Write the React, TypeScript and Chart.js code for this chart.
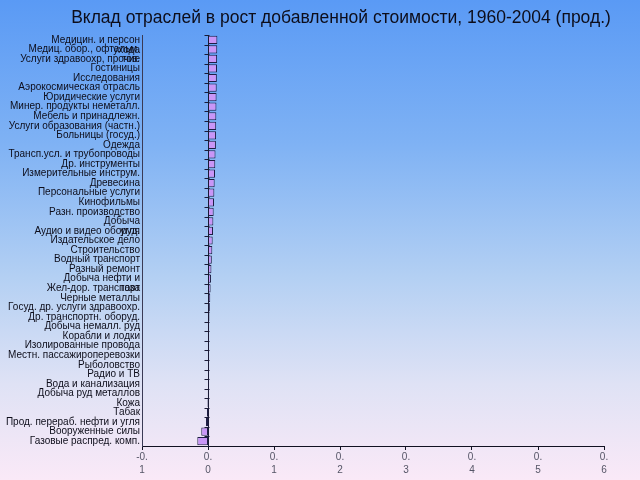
import React, { useEffect, useRef } from "react";
import { Chart, registerables } from "chart.js";

Chart.register(...registerables);

const TITLE = "Вклад отраслей в рост добавленной стоимости, 1960-2004 (прод.)";

const categories = [
  "Медицин. и персон\nухода",
  "Медиц. обор., офтальм.\nтов.",
  "Услуги здравоохр, прочие",
  "Гостиницы",
  "Исследования",
  "Аэрокосмическая отрасль",
  "Юридические услуги",
  "Минер. продукты неметалл.",
  "Мебель и принадлежн.",
  "Услуги образования (частн.)",
  "Больницы (госуд.)",
  "Одежда",
  "Трансп.усл. и трубопроводы",
  "Др. инструменты",
  "Измерительные инструм.",
  "Древесина",
  "Персональные услуги",
  "Кинофильмы",
  "Разн. производство",
  "Добыча\nугля",
  "Аудио и видео оборуд.",
  "Издательское дело",
  "Строительство",
  "Водный транспорт",
  "Разный ремонт",
  "Добыча нефти и\nгаза",
  "Жел-дор. транспорт",
  "Черные металлы",
  "Госуд. др. услуги здравоохр.",
  "Др. транспортн. оборуд.",
  "Добыча немалл. руд",
  "Корабли и лодки",
  "Изолированные провода",
  "Местн. пассажироперевозки",
  "Рыболовство",
  "Радио и ТВ",
  "Вода и канализация",
  "Добыча руд металлов",
  "Кожа",
  "Табак",
  "Прод. перераб. нефти и угля",
  "Вооруженные силы",
  "Газовые распред. комп.",
];

const contribution = [
  0.0142, 0.014, 0.0138, 0.0136, 0.0134, 0.0132, 0.013, 0.0128, 0.0126, 0.0124,
  0.0122, 0.012, 0.0114, 0.011, 0.0106, 0.0101, 0.0096, 0.0091, 0.0086, 0.0081,
  0.0076, 0.0071, 0.0065, 0.0058, 0.0052, 0.0046, 0.004, 0.0034, 0.0028, 0.0022,
  0.0017, 0.0012, 0.0008, 0.0005, 0.0003, 0.0001, 0.0, -0.0003, -0.0008, -0.0015,
  -0.003, -0.0102, -0.0162,
];

const xTickLabels = ["-0.1", "0.0", "0.1", "0.2", "0.3", "0.4", "0.5", "0.6"];

const FONT = "'Liberation Sans', Arial, sans-serif";

const titlePlugin = {
  id: "customTitle",
  afterDraw(chart: any) {
    const ctx = chart.ctx;
    ctx.save();
    ctx.font = `17.5px ${FONT}`;
    ctx.fillStyle = "#0d0d1a";
    ctx.textAlign = "center";
    ctx.textBaseline = "middle";
    ctx.fillText(TITLE, 341, 18);
    ctx.restore();
  },
};

const zeroTicksPlugin = {
  id: "zeroTicks",
  afterDatasetsDraw(chart: any) {
    const xs = chart.scales.x;
    const ys = chart.scales.y;
    const x = Math.round(xs.getPixelForValue(0)) + 0.5;
    const ctx = chart.ctx;
    const n = chart.data.labels.length;
    ctx.save();
    ctx.strokeStyle = "#1a1a36";
    ctx.lineWidth = 1;
    ctx.beginPath();
    ctx.moveTo(x, chart.chartArea.top);
    ctx.lineTo(x, chart.chartArea.bottom);
    for (let i = 0; i <= n; i++) {
      const py = Math.round(ys.getPixelForValue(i - 0.5)) + 0.5;
      ctx.moveTo(x - 4, py);
      ctx.lineTo(x + 1, py);
    }
    ctx.stroke();
    ctx.restore();
  },
};

export default function App() {
  const ref = useRef<HTMLCanvasElement | null>(null);

  useEffect(() => {
    if (!ref.current) return;
    const chart = new Chart(ref.current, {
      type: "bar",
      data: {
        labels: categories,
        datasets: [
          {
            data: contribution,
            backgroundColor: "#c996f7",
            borderColor: "#1e1e44",
            borderWidth: 1,
            borderSkipped: false,
            categoryPercentage: 1,
            barPercentage: 0.86,
          },
        ],
      },
      options: {
        indexAxis: "y",
        animation: false,
        responsive: false,
        maintainAspectRatio: false,
        layout: { padding: { top: 35, right: 36, left: 0, bottom: 0 } },
        plugins: {
          legend: { display: false },
          tooltip: { enabled: false },
          title: { display: false },
        },
        scales: {
          x: {
            type: "linear",
            min: -0.1,
            max: 0.6,
            ticks: {
              stepSize: 0.1,
              autoSkip: false,
              maxRotation: 0,
              padding: 1,
              color: "#555566",
              font: { family: FONT, size: 10, lineHeight: 1.3 },
              callback: (_v: any, i: number) => {
                const s = xTickLabels[i] ?? "";
                const p = s.indexOf(".") + 1;
                return [s.slice(0, p), s.slice(p)];
              },
            },
            grid: {
              display: true,
              drawOnChartArea: false,
              drawTicks: true,
              tickLength: 4,
              tickColor: "#111122",
            },
            border: { display: true, color: "#111122", width: 1 },
            afterFit: (s: any) => {
              s.height = 34;
            },
          },
          y: {
            type: "category",
            ticks: {
              autoSkip: false,
              padding: 2,
              color: "#0d0d1a",
              font: { family: FONT, size: 10, lineHeight: 1.0 },
              callback: function (this: any, _v: any, i: number) {
                const parts = String(categories[i]).split("\n");
                return parts.length > 1 ? ["", ...parts] : parts[0];
              },
            },
            grid: { display: false, drawTicks: false, tickLength: 0 },
            border: { display: true, color: "#3a3a55", width: 1 },
            afterFit: (s: any) => {
              s.width = 142;
            },
          },
        },
      },
      plugins: [titlePlugin, zeroTicksPlugin],
    });
    return () => chart.destroy();
  }, []);

  return (
    <div
      style={{
        position: "fixed",
        left: 0,
        top: 0,
        width: 640,
        height: 480,
        background:
          "linear-gradient(180deg, #5a9af5 0%, #7fb2f4 30%, #b4d0f3 58%, #dfe2f5 80%, #fae9f7 100%)",
      }}
    >
      <canvas ref={ref} width={640} height={480} style={{ display: "block" }} />
    </div>
  );
}
